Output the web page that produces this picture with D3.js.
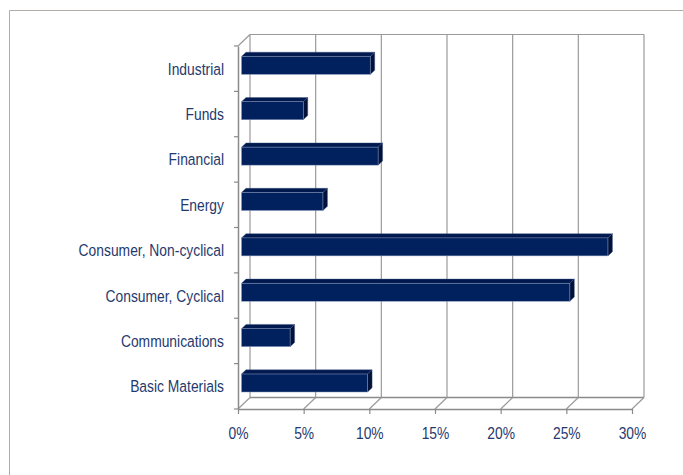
<!DOCTYPE html>
<html>
<head>
<meta charset="utf-8">
<script src="https://cdn.jsdelivr.net/npm/d3@7"></script>
<style>
  body { margin: 0; background: #fff; }
  svg { display: block; }
  .lbl { font-family: "Liberation Sans", Arial, sans-serif; font-size: 16.5px; fill: #1f3a6e; }
</style>
</head>
<body>
<svg id="chart" width="683" height="475"></svg>
<script>
// chart data (top to bottom as drawn)
const categories = ["Industrial", "Funds", "Financial", "Energy",
  "Consumer, Non-cyclical", "Consumer, Cyclical", "Communications", "Basic Materials"];
const values = [9.8, 4.7, 10.4, 6.2, 27.9, 25.0, 3.7, 9.6];
const tickValues = [0, 5, 10, 15, 20, 25, 30];
const tickLabels = ["0%", "5%", "10%", "15%", "20%", "25%", "30%"];

const svg = d3.select("#chart");
const narrow = 0.84; // squeeze text to look like a narrow face

// outer frame (only top and left show)
svg.append("path")
  .attr("d", "M9.5,475 L9.5,10.5 L683,10.5")
  .attr("fill", "none")
  .attr("stroke", "#b3aca6")
  .attr("stroke-width", 1);

// front plane geometry
const plotLeft = 238, plotTop = 46, plotBottom = 409;
const depthX = 12, depthY = -11.5; // offset of back wall

const x = d3.scaleLinear().domain([0, 30]).range([plotLeft, plotLeft + 394]);
const y = d3.scaleBand().domain(categories).range([plotTop, plotBottom]).paddingInner(0).paddingOuter(0);

const g = svg.append("g");
const grid = "#9a9a9a";

// back wall gridlines
g.selectAll(".grid")
  .data(tickValues)
  .enter().append("line")
  .attr("x1", d => x(d) + depthX).attr("x2", d => x(d) + depthX)
  .attr("y1", plotTop + depthY).attr("y2", plotBottom + depthY)
  .attr("stroke", grid).attr("stroke-width", 1.2);

// back wall top edge and floor back edge
g.append("line")
  .attr("x1", x(0) + depthX).attr("x2", x(30) + depthX)
  .attr("y1", plotTop + depthY).attr("y2", plotTop + depthY)
  .attr("stroke", grid).attr("stroke-width", 1.2);
g.append("line")
  .attr("x1", x(0) + depthX).attr("x2", x(30) + depthX)
  .attr("y1", plotBottom + depthY).attr("y2", plotBottom + depthY)
  .attr("stroke", "#8a8a8a").attr("stroke-width", 1.5);

// floor diagonals
g.selectAll(".floor")
  .data(tickValues)
  .enter().append("line")
  .attr("x1", d => x(d)).attr("x2", d => x(d) + depthX)
  .attr("y1", plotBottom).attr("y2", plotBottom + depthY)
  .attr("stroke", grid).attr("stroke-width", 1.2);

// side wall top diagonal
g.append("line")
  .attr("x1", plotLeft).attr("x2", plotLeft + depthX)
  .attr("y1", plotTop).attr("y2", plotTop + depthY)
  .attr("stroke", grid).attr("stroke-width", 1.2);

// bars: front face sits a bit behind the front plane
const bx = 3.5, by = -3.3;     // front face offset
const dx = 4.5, dy = -4.2;     // bar depth
const barH = 18;

const bars = g.selectAll(".bar")
  .data(categories.map((c, i) => ({ cat: c, val: values[i] })))
  .enter().append("g")
  .attr("class", "bar");

const fy = d => y(d.cat) + y.bandwidth() / 2 - barH / 2 + by;
const fx0 = x(0) + bx;
const fx1 = d => x(d.val) + bx;

// top face
bars.append("path")
  .attr("d", d => `M${fx0},${fy(d)} L${fx0 + dx},${fy(d) + dy} L${fx1(d) + dx},${fy(d) + dy} L${fx1(d)},${fy(d)} Z`)
  .attr("fill", "#001a4f").attr("stroke", "#3a4f80").attr("stroke-width", 0.4);
// side face
bars.append("path")
  .attr("d", d => `M${fx1(d)},${fy(d)} L${fx1(d) + dx},${fy(d) + dy} L${fx1(d) + dx},${fy(d) + dy + barH} L${fx1(d)},${fy(d) + barH} Z`)
  .attr("fill", "#00123a").attr("stroke", "#3a4f80").attr("stroke-width", 0.4);
// front face
bars.append("rect")
  .attr("x", fx0)
  .attr("y", d => fy(d))
  .attr("width", d => fx1(d) - fx0)
  .attr("height", barH)
  .attr("fill", "#00205e").attr("stroke", "#8e9cc0").attr("stroke-width", 0.5);

// front axes
const axisColor = "#8a8a8a";
const xAxis = g.append("g")
  .attr("transform", `translate(0,${plotBottom})`)
  .call(d3.axisBottom(x).tickValues(tickValues).tickSize(5).tickSizeOuter(0)
    .tickFormat((d, i) => tickLabels[i]));
xAxis.select(".domain").attr("stroke", axisColor).attr("stroke-width", 1.5);
xAxis.selectAll(".tick line").attr("stroke", axisColor).attr("stroke-width", 1.2);
xAxis.selectAll(".tick text")
  .attr("class", "lbl").attr("dy", 0).attr("y", 30)
  .attr("transform", `scale(${narrow},1)`);
xAxis.attr("font-family", null).attr("font-size", null);

const yAxis = g.append("g")
  .attr("transform", `translate(${plotLeft},0)`)
  .call(d3.axisLeft(y).tickSize(0).tickSizeOuter(0));
yAxis.select(".domain").attr("stroke", axisColor).attr("stroke-width", 1.5);
yAxis.selectAll(".tick text")
  .attr("class", "lbl").attr("dy", "0.36em")
  .attr("x", -14 / narrow)
  .attr("transform", `scale(${narrow},1)`);
yAxis.attr("font-family", null).attr("font-size", null);

// category boundary ticks on the left axis
g.selectAll(".ctick")
  .data(d3.range(categories.length + 1))
  .enter().append("line")
  .attr("x1", plotLeft - 4).attr("x2", plotLeft)
  .attr("y1", i => plotTop + i * y.step()).attr("y2", i => plotTop + i * y.step())
  .attr("stroke", axisColor).attr("stroke-width", 1.2);
</script>
</body>
</html>
